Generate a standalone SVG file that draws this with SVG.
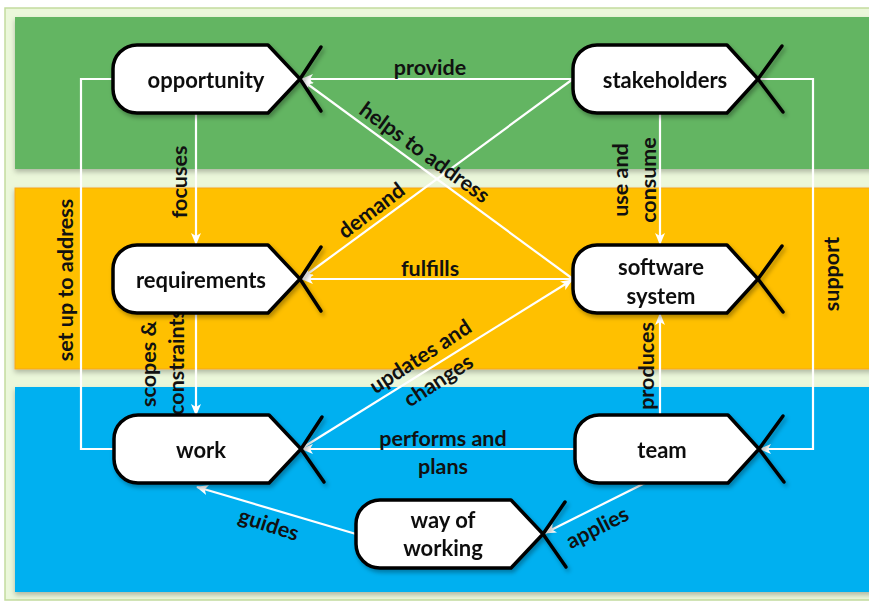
<svg xmlns="http://www.w3.org/2000/svg" width="869" height="603" viewBox="0 0 869 603">
<defs>
<marker id="ah" viewBox="0 0 12 10" refX="11" refY="5" markerWidth="12" markerHeight="10" markerUnits="userSpaceOnUse" orient="auto">
<path d="M0,0 L12,5 L0,10 L3,5 Z" fill="#ffffff"/>
</marker>
<filter id="sh" x="-10%" y="-10%" width="130%" height="140%">
<feDropShadow dx="2" dy="3" stdDeviation="2" flood-color="#000" flood-opacity="0.3"/>
</filter>
<filter id="bsh" x="-2%" y="-5%" width="104%" height="115%">
<feDropShadow dx="0" dy="3" stdDeviation="2.5" flood-color="#000" flood-opacity="0.25"/>
</filter>
</defs>
<style>
.body{fill:#ffffff;stroke:#000;stroke-width:3.5;stroke-linejoin:round}
.tail{fill:none;stroke:#000;stroke-width:3.5;stroke-linecap:round}
.nt{font-family:Lato,"Open Sans","Liberation Sans",sans-serif;font-weight:bold;font-size:22px;fill:#111;text-anchor:middle;dominant-baseline:central}
.lb{font-family:Lato,"Open Sans","Liberation Sans",sans-serif;font-weight:bold;font-size:21.5px;fill:#111;text-anchor:middle;dominant-baseline:central}
.cn{fill:none;stroke:#ffffff;stroke-width:2.2}
</style>
<rect x="0" y="0" width="869" height="603" fill="#ffffff"/>
<rect x="5" y="8" width="872" height="592" fill="#EBF7DA" stroke="#C3DB9E" stroke-width="1.5"/>
<rect x="15" y="17" width="860" height="152" fill="#63B562" filter="url(#bsh)"/>
<rect x="15" y="188" width="860" height="181" fill="#FFC000" stroke="#F5A623" stroke-width="1" filter="url(#bsh)"/>
<rect x="15" y="387" width="860" height="205" fill="#00B0F0" filter="url(#bsh)"/>

<g id="connectors">
<path class="cn" d="M196,113 V244" marker-end="url(#ah)"/>
<path class="cn" d="M573,79 H302" marker-end="url(#ah)"/>
<path class="cn" d="M573,279 L302,80" marker-end="url(#ah)"/>
<path class="cn" d="M573,79 L302,278" marker-end="url(#ah)"/>
<path class="cn" d="M573,279 H302" marker-end="url(#ah)"/>
<path class="cn" d="M660,113 V244" marker-end="url(#ah)"/>
<path class="cn" d="M758,79 H813 V449 H760" marker-end="url(#ah)"/>
<path class="cn" d="M660,416 V314" marker-end="url(#ah)"/>
<path class="cn" d="M575,449 H302" marker-end="url(#ah)"/>
<path class="cn" d="M302,448 L572,280" marker-end="url(#ah)"/>
<path class="cn" d="M114,449 H81 V79 H113"/>
<path class="cn" d="M196,313 V415" marker-end="url(#ah)"/>
<path class="cn" d="M647,482 L545,533" marker-end="url(#ah)"/>
<path class="cn" d="M356,534 L197,487" marker-end="url(#ah)"/>
<text class="lb" x="430" y="67">provide</text>
<text class="lb" transform="translate(179,182) rotate(-90)">focuses</text>
<text class="lb" transform="translate(620,180) rotate(-90)">use and</text>
<text class="lb" transform="translate(648,180) rotate(-90)">consume</text>
<text class="lb" transform="translate(65,280) rotate(-90)">set up to address</text>
<text class="lb" transform="translate(831,274) rotate(-90)">support</text>
<text class="lb" transform="translate(148,364) rotate(-90)">scopes &amp;</text>
<text class="lb" transform="translate(176,362) rotate(-90)">constraints</text>
<text class="lb" transform="translate(646,366) rotate(-90)">produces</text>
<text class="lb" x="430" y="268">fulfills</text>
<text class="lb" transform="translate(425,152) rotate(36)">helps to address</text>
<text class="lb" transform="translate(371,210) rotate(-37)">demand</text>
<text class="lb" transform="translate(420,356) rotate(-33)">updates and</text>
<text class="lb" transform="translate(438,380) rotate(-33)">changes</text>
<text class="lb" x="443" y="438">performs and</text>
<text class="lb" x="443" y="466">plans</text>
<text class="lb" transform="translate(269,524) rotate(18)">guides</text>
<text class="lb" transform="translate(597,527) rotate(-27)">applies</text>
</g>

<g id="opportunity" filter="url(#sh)">
<path class="body" d="M137,45 H268 L300,79 L268,113 H137 A24,24 0 0 1 113,89 V69 A24,24 0 0 1 137,45 Z"/>
<path class="tail" d="M300,79 L321,47 M300,79 L321,111"/>
<text class="nt" x="206" y="79">opportunity</text>
</g>
<g id="stakeholders" filter="url(#sh)">
<path class="body" d="M597,45 H727 L758,79 L727,113 H597 A24,24 0 0 1 573,89 V69 A24,24 0 0 1 597,45 Z"/>
<path class="tail" d="M758,79 L782,46 M758,79 L783,112"/>
<text class="nt" x="665" y="79">stakeholders</text>
</g>
<g id="requirements" filter="url(#sh)">
<path class="body" d="M137,245 H268 L300,279 L268,313 H137 A24,24 0 0 1 113,289 V269 A24,24 0 0 1 137,245 Z"/>
<path class="tail" d="M300,279 L321,247 M300,279 L321,311"/>
<text class="nt" x="201" y="279">requirements</text>
</g>
<g id="software-system" filter="url(#sh)">
<path class="body" d="M597,245 H727 L758,279 L727,313 H597 A24,24 0 0 1 573,289 V269 A24,24 0 0 1 597,245 Z"/>
<path class="tail" d="M758,279 L782,246 M758,279 L783,312"/>
<text class="nt" x="661" y="266">software</text>
<text class="nt" x="661" y="295">system</text>
</g>
<g id="work" filter="url(#sh)">
<path class="body" d="M138,415 H269 L301,449 L269,483 H138 A24,24 0 0 1 114,459 V439 A24,24 0 0 1 138,415 Z"/>
<path class="tail" d="M301,449 L322,417 M301,449 L324,482"/>
<text class="nt" x="201" y="449">work</text>
</g>
<g id="team" filter="url(#sh)">
<path class="body" d="M599,415 H728 L759,449 L728,483 H599 A24,24 0 0 1 575,459 V439 A24,24 0 0 1 599,415 Z"/>
<path class="tail" d="M759,449 L783,416 M759,449 L784,482"/>
<text class="nt" x="662" y="449">team</text>
</g>
<g id="way-of-working" filter="url(#sh)">
<path class="body" d="M380,500 H511 L543,534 L511,568 H380 A24,24 0 0 1 356,544 V524 A24,24 0 0 1 380,500 Z"/>
<path class="tail" d="M543,534 L565,502 M543,534 L566,567"/>
<text class="nt" x="443" y="519">way of</text>
<text class="nt" x="443" y="547">working</text>
</g>
</svg>
